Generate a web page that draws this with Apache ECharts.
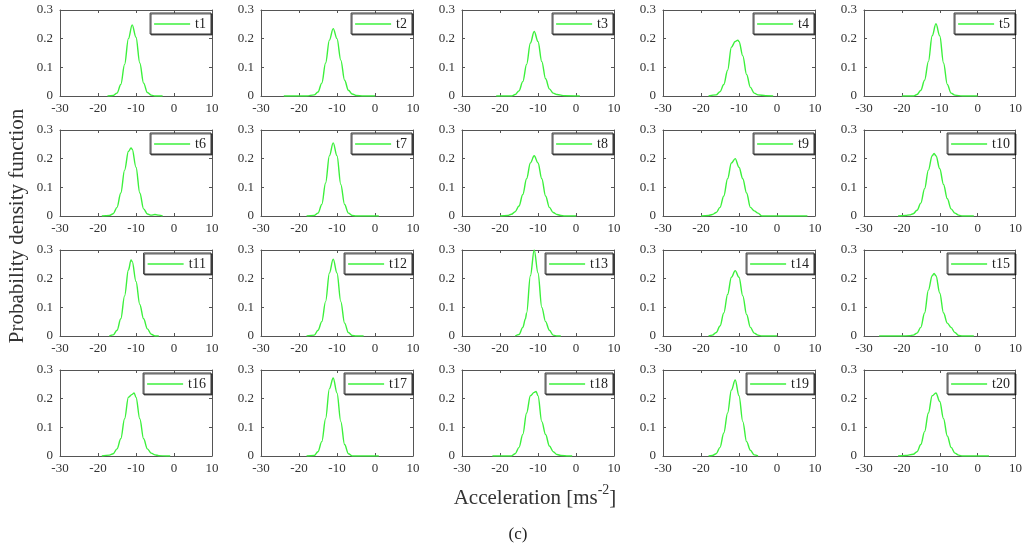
<!DOCTYPE html>
<html>
<head>
<meta charset="utf-8">
<script src="https://cdn.jsdelivr.net/npm/echarts@6/dist/echarts.min.js"></script>
<style>html,body{margin:0;padding:0;background:#fff}#c{width:1025px;height:549px}</style>
</head>
<body>
<div id="c"></div>
<script>
// ---- data ----
const seriesNames = ['t1','t2','t3','t4','t5','t6','t7','t8','t9','t10','t11','t12','t13','t14','t15','t16','t17','t18','t19','t20'];
const xTicks = [-30, -20, -10, 0, 10];
const yTicks = [0, 0.1, 0.2, 0.3];

const t1 = [[-17.5,0],[-16,0.002],[-15,0.01],[-14,0.04],[-13,0.11],[-12,0.2],[-11,0.248],[-10,0.205],[-9,0.115],[-8,0.045],[-7,0.012],[-6,0.003],[-5,0],[-3,0]];
const t2 = [[-24,0],[-18,0],[-16,0.004],[-15,0.014],[-14,0.045],[-13,0.115],[-12,0.195],[-11,0.235],[-10,0.2],[-9,0.125],[-8,0.055],[-7,0.02],[-6,0.007],[-5,0.002],[-3,0],[0,0]];
const t3 = [[-21,0],[-17,0],[-16,0.005],[-15,0.018],[-14,0.05],[-13,0.11],[-12,0.185],[-11,0.225],[-10,0.19],[-9,0.12],[-8,0.06],[-7,0.025],[-6,0.01],[-5,0.005],[-3,0.001],[1,0]];
const t4 = [[-18,0],[-16,0.004],[-15,0.015],[-14,0.04],[-13,0.09],[-12,0.17],[-11,0.19],[-10.3,0.195],[-10,0.19],[-9,0.14],[-8,0.075],[-7,0.03],[-6,0.01],[-5,0.004],[-3,0.001],[-1,0]];
const t5 = [[-20,0],[-17,0],[-16,0.005],[-15,0.02],[-14,0.055],[-13,0.12],[-12,0.21],[-11,0.252],[-10,0.21],[-9,0.115],[-8,0.04],[-7,0.01],[-6,0.003],[-4,0],[0,0]];
const t6 = [[-19,0],[-17,0.002],[-16,0.008],[-15,0.03],[-14,0.08],[-13,0.16],[-12,0.225],[-11.3,0.237],[-11,0.233],[-10,0.17],[-9,0.08],[-8,0.025],[-7,0.007],[-6,0.003],[-5,0.005],[-4,0.003],[-3,0]];
const t7 = [[-18,0],[-16,0.002],[-15,0.01],[-14,0.04],[-13,0.115],[-12,0.21],[-11,0.255],[-10,0.21],[-9,0.11],[-8,0.04],[-7,0.01],[-6,0.002],[-5,0],[1,0]];
const t8 = [[-20,0],[-18,0.002],[-17,0.006],[-16,0.015],[-15,0.035],[-14,0.075],[-13,0.13],[-12,0.185],[-11,0.21],[-10,0.185],[-9,0.13],[-8,0.07],[-7,0.03],[-6,0.012],[-5,0.005],[-4,0.002],[-3,0],[0,0]];
const t9 = [[-20,0],[-18,0.002],[-17,0.005],[-16,0.012],[-15,0.03],[-14,0.07],[-13,0.13],[-12,0.185],[-11,0.2],[-10,0.17],[-9,0.13],[-8,0.08],[-7,0.03],[-6,0.018],[-5,0.01],[-4,0],[0,0],[8,0]];
const t10 = [[-21,0],[-19,0.002],[-18,0.004],[-17,0.008],[-16,0.02],[-15,0.045],[-14,0.095],[-13,0.16],[-12,0.21],[-11.5,0.218],[-11,0.21],[-10,0.165],[-9,0.11],[-8,0.06],[-7,0.025],[-6,0.01],[-5,0.003],[-4,0],[-1,0]];
const t11 = [[-17,0],[-16,0.004],[-15,0.02],[-14,0.06],[-13,0.14],[-12,0.23],[-11.3,0.265],[-11,0.26],[-10,0.19],[-9,0.11],[-8,0.06],[-7,0.025],[-6,0.006],[-5,0],[-4,0]];
const t12 = [[-18,0],[-16,0.003],[-15,0.02],[-14,0.05],[-13,0.12],[-12,0.22],[-11,0.268],[-10,0.22],[-9,0.12],[-8,0.045],[-7,0.012],[-6,0.002],[-5,0],[-3,0]];
const t13 = [[-16,0],[-15,0.005],[-14,0.03],[-13.3,0.06],[-13,0.08],[-12,0.21],[-11,0.3],[-10,0.22],[-9,0.1],[-8,0.05],[-7,0.02],[-6,0.003],[-5,0],[-4,0]];
const t14 = [[-18,0],[-17,0.003],[-16,0.012],[-15,0.035],[-14,0.08],[-13,0.145],[-12,0.205],[-11,0.228],[-10,0.205],[-9,0.14],[-8,0.075],[-7,0.03],[-6,0.01],[-5,0.003],[-4,0],[0,0]];
const t15 = [[-26,0],[-20,0],[-18,0.001],[-17,0.003],[-16,0.01],[-15,0.03],[-14,0.08],[-13,0.16],[-12,0.21],[-11.5,0.218],[-11,0.21],[-10,0.15],[-9,0.08],[-8,0.045],[-7,0.03],[-6,0.012],[-5,0.002],[-4,0],[-1,0]];
const t16 = [[-19,0],[-17,0.003],[-16,0.008],[-15,0.025],[-14,0.06],[-13,0.13],[-12,0.205],[-11,0.215],[-10.5,0.22],[-10,0.205],[-9,0.13],[-8,0.06],[-7,0.025],[-6,0.01],[-5,0.004],[-4,0.001],[-2,0],[-1,0]];
const t17 = [[-18,0],[-16,0.002],[-15,0.015],[-14,0.05],[-13,0.13],[-12,0.235],[-11,0.272],[-10,0.22],[-9,0.12],[-8,0.04],[-7,0.008],[-6,0],[1,0]];
const t18 = [[-22,0],[-17,0],[-16,0.008],[-15,0.03],[-14,0.075],[-13,0.15],[-12,0.21],[-11,0.222],[-10.5,0.225],[-10,0.21],[-9,0.12],[-8,0.075],[-7,0.035],[-6,0.015],[-5,0.005],[-4,0.002],[-2,0],[-1,0]];
const t19 = [[-18,0],[-17,0.002],[-16,0.008],[-15,0.03],[-14,0.08],[-13,0.15],[-12,0.23],[-11,0.265],[-10,0.21],[-9,0.12],[-8,0.05],[-7,0.02],[-6,0.004],[-5,0]];
const t20 = [[-21,0],[-19,0.002],[-17,0.006],[-16,0.015],[-15,0.04],[-14,0.085],[-13,0.15],[-12,0.21],[-11,0.22],[-10,0.19],[-9,0.13],[-8,0.07],[-7,0.03],[-6,0.01],[-5,0.003],[-4,0],[-1,0],[3,0]];
const seriesData = [t1,t2,t3,t4,t5,t6,t7,t8,t9,t10,t11,t12,t13,t14,t15,t16,t17,t18,t19,t20];

// ---- layout ----
const colLefts = [60, 261, 462, 663, 864];
const rowTops = [10, 130, 250, 370];
const W = 152, H = 86;
const FONT = '"Liberation Serif", "Times New Roman", serif';
const AX = '#555';
const GREEN = '#3cf03c';

const grid = [], xAxis = [], yAxis = [], series = [], legend = [];
seriesNames.forEach((name, i) => {
  const r = Math.floor(i / 5), c = i % 5;
  const left = colLefts[c], top = rowTops[r];
  grid.push({left: left, top: top, width: W, height: H, containLabel: false});
  const xb = {
    type: 'value', gridIndex: i, min: xTicks[0], max: xTicks[xTicks.length - 1], interval: 10,
    axisLine: {show: true, onZero: false, lineStyle: {color: AX, width: 1}},
    axisTick: {show: true, inside: true, length: 3, lineStyle: {color: AX}},
    splitLine: {show: false},
    axisLabel: {color: '#333', fontFamily: FONT, fontSize: 13, margin: 6}
  };
  xAxis.push(Object.assign({position: 'bottom'}, xb));
  xAxis.push(Object.assign({}, xb, {position: 'top', axisLabel: {show: false}}));
  const yb = {
    type: 'value', gridIndex: i, min: yTicks[0], max: yTicks[yTicks.length - 1], interval: 0.1,
    axisLine: {show: true, onZero: false, lineStyle: {color: AX, width: 1}},
    axisTick: {show: true, inside: true, length: 3, lineStyle: {color: AX}},
    splitLine: {show: false},
    axisLabel: {color: '#333', fontFamily: FONT, fontSize: 13, margin: 7,
      formatter: v => String(Math.round(v * 10) / 10)}
  };
  yAxis.push(Object.assign({position: 'left'}, yb));
  yAxis.push(Object.assign({}, yb, {position: 'right', axisLabel: {show: false}}));
  series.push({
    name: name, type: 'line', xAxisIndex: 2 * i, yAxisIndex: 2 * i,
    data: seriesData[i], showSymbol: false, smooth: 0.35, smoothMonotone: 'x',
    lineStyle: {color: GREEN, width: 1.4}, itemStyle: {color: GREEN}, animation: false
  });
  legend.push({
    data: [name], right: 1025 - (left + W - 1), top: top + 3, orient: 'horizontal',
    icon: 'rect', itemWidth: 36, itemHeight: 1.6, itemGap: 0, selectedMode: false,
    textStyle: {fontFamily: FONT, fontSize: 14, color: '#222'},
    backgroundColor: '#fff', borderColor: '#333', borderWidth: 1,
    padding: [4, 5, 3, 4],
    shadowColor: 'rgba(0,0,0,0.6)', shadowOffsetX: 1, shadowOffsetY: 1, shadowBlur: 0
  });
});

const option = {
  backgroundColor: '#fff',
  animation: false,
  grid, xAxis, yAxis, series, legend,
  title: [
    {text: '{a|Acceleration [ms}{b|-2}{a|]}', left: 530, top: 478, textAlign: 'center',
     textStyle: {fontWeight: 'normal', rich: {
       a: {fontFamily: FONT, fontSize: 21, fontWeight: 'normal', color: '#333', lineHeight: 26, verticalAlign: 'bottom'},
       b: {fontFamily: FONT, fontSize: 14, fontWeight: 'normal', color: '#333', lineHeight: 26, verticalAlign: 'top'}
     }}},
    {text: '(c)', left: 513, top: 521, textAlign: 'center',
     textStyle: {fontFamily: FONT, fontSize: 17, fontWeight: 'normal', color: '#222'}}
  ],
  graphic: [{
    type: 'text', x: 17, y: 226, rotation: Math.PI / 2,
    style: {text: 'Probability density function', fontFamily: FONT, fontSize: 21, fill: '#333',
      align: 'center', verticalAlign: 'middle', textAlign: 'center', textVerticalAlign: 'middle'}
  }]
};
const chart = echarts.init(document.getElementById('c'), null, {renderer: 'canvas'});
chart.setOption(option);
</script>
</body>
</html>
